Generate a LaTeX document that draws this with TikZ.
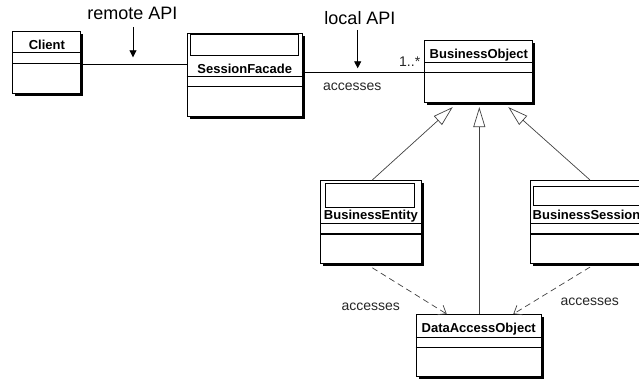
\documentclass[tikz,border=0pt]{standalone}
\usepackage{fontspec}
\setmainfont{Liberation Sans}
\usetikzlibrary{arrows.meta,shadows,calc}

\begin{document}
\begin{tikzpicture}[x=1pt,y=-1pt]
\tikzset{
  classbox/.style={draw, fill=white, line width=1.1pt, inner sep=0pt,
    anchor=north west,
    drop shadow={shadow xshift=2.6pt, shadow yshift=-2.6pt, fill=black, opacity=1}},
  divider/.style={line width=1pt},
  stereobox/.style={draw, line width=0.9pt},
  cname/.style={font=\fontsize{13}{14}\selectfont\bfseries, anchor=base, inner sep=0pt},
  apilabel/.style={font=\fontsize{18}{20}\selectfont, anchor=base, inner sep=0pt},
  rolelabel/.style={font=\fontsize{14}{15}\selectfont, anchor=base, inner sep=0pt, text=black!85},
  assoc/.style={line width=0.9pt},
  pointer/.style={line width=0.9pt, -{Triangle[length=7pt,width=7pt]}},
  generalize/.style={line width=0.7pt, draw=black!75, -{Triangle[open,length=20pt,width=12pt,line width=0.7pt]}},
  depend/.style={line width=0.7pt, draw=black!75, dash pattern=on 6pt off 4pt,
    -{Straight Barb[length=7pt,width=11pt,line width=0.7pt]}},
}
\useasboundingbox (0,0) rectangle (639,379);
\clip (0,0) rectangle (639,379);

% connectors underneath the class boxes
\coordinate (cl-port) at (80.3,64);
\coordinate (sf-lport) at (186.7,64);
\coordinate (sf-rport) at (301.7,72.3);
\coordinate (bo-lport) at (424.3,72.3);

% ---- class boxes ----
\node[classbox, minimum width=68pt, minimum height=62.6pt] (cl) at (12.3,30.7) {};
\draw[divider] ($(cl.north west)+(0,22)$) -- ($(cl.north east)+(0,22)$);
\draw[divider] ($(cl.north west)+(0,33.3)$) -- ($(cl.north east)+(0,33.3)$);
\node[cname] (cl-name) at ($(cl.north)+(0,18.6)$) {Client};

\node[classbox, minimum width=115pt, minimum height=83pt] (sf) at (186.7,32.7) {};
\draw[stereobox] ($(sf.north west)+(3.3,1.8)$) rectangle ($(sf.north east)+(-4,23)$);
\draw[divider] ($(sf.north west)+(0,43.6)$) -- ($(sf.north east)+(0,43.6)$);
\draw[divider] ($(sf.north west)+(0,54)$) -- ($(sf.north east)+(0,54)$);
\node[cname] (sf-name) at ($(sf.north)+(0,41.3)$) {SessionFacade};

\node[classbox, minimum width=108pt, minimum height=62.3pt] (bo) at (424.3,40) {};
\draw[divider] ($(bo.north west)+(0,22.3)$) -- ($(bo.north east)+(0,22.3)$);
\draw[divider] ($(bo.north west)+(0,32.7)$) -- ($(bo.north east)+(0,32.7)$);
\node[cname] (bo-name) at ($(bo.north)+(0,18.3)$) {BusinessObject};

\node[classbox, minimum width=100.7pt, minimum height=83.3pt] (be) at (320,180) {};
\draw[stereobox] ($(be.north west)+(5,3.3)$) rectangle ($(be.north east)+(-7.4,27.3)$);
\draw[divider] ($(be.north west)+(0,44)$) -- ($(be.north east)+(0,44)$);
\draw[divider] ($(be.north west)+(0,54)$) -- ($(be.north east)+(0,54)$);
\node[cname] (be-name) at ($(be.north)+(0,39.5)$) {BusinessEntity};

\node[classbox, minimum width=112pt, minimum height=82.5pt] (bs) at (530,180) {};
\draw[stereobox] ($(bs.north west)+(3.3,6.7)$) rectangle ($(bs.north east)+(-4,25.3)$);
\draw[divider] ($(bs.north west)+(0,44)$) -- ($(bs.north east)+(0,44)$);
\draw[divider] ($(bs.north west)+(0,54)$) -- ($(bs.north east)+(0,54)$);
\node[cname] (bs-name) at ($(bs.north)+(0,39.5)$) {BusinessSession};

\node[classbox, minimum width=125pt, minimum height=62pt] (dao) at (415.7,314) {};
\draw[divider] ($(dao.north west)+(0,23.3)$) -- ($(dao.north east)+(0,23.3)$);
\draw[divider] ($(dao.north west)+(0,33.7)$) -- ($(dao.north east)+(0,33.7)$);
\node[cname] (dao-name) at ($(dao.north)+(0,18.7)$) {DataAccessObject};

% ---- associations ----
\draw[assoc] (cl-port) -- (sf-lport);
\draw[assoc] (sf-rport) -- (bo-lport);
\node[rolelabel] (mult) at (409.7,66.7) {1..*};
\node[rolelabel] (acc-top) at (352.2,90.3) {accesses};

% ---- API markers ----
\node[apilabel] (remote) at (132.5,19.3) {remote API};
\coordinate (remote-from) at (133,27);
\coordinate (remote-to) at (133,57.3);
\draw[pointer] (remote-from) -- (remote-to);

\node[apilabel] (local) at (360,25) {local API};
\coordinate (local-from) at (357.7,30);
\coordinate (local-to) at (357.7,68.3);
\draw[pointer] (local-from) -- (local-to);

% ---- generalizations ----
\draw[generalize] ($(be.north)+(1.4,0)$) -- ($(bo.south west)+(28.4,3.7)$);
\draw[generalize] ($(dao.north west)+(63.6,0)$) -- ($(bo.south west)+(55,3.7)$);
\draw[generalize] ($(bs.north west)+(60,0)$) -- ($(bo.south west)+(84,3.7)$);

% ---- dependencies ----
\draw[depend] ($(be.south)+(1.4,3.4)$) -- ($(dao.north west)+(31,0)$);
\draw[depend] ($(bs.south west)+(60,3.5)$) -- ($(dao.north west)+(97.6,0)$);
\node[rolelabel] (acc-left) at (370.8,310.5) {accesses};
\node[rolelabel] (acc-right) at (589.8,305.5) {accesses};

\end{tikzpicture}
\end{document}
